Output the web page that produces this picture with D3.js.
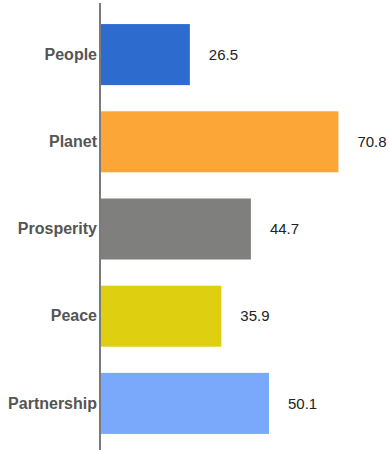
<!DOCTYPE html>
<html><head><meta charset="utf-8">
<script src="https://cdn.jsdelivr.net/npm/d3@7"></script>
<style>html,body{margin:0;padding:0;background:#fff;}</style>
</head><body>
<svg id="chart" width="389" height="450"></svg>
<script>
const categories = ["People", "Planet", "Prosperity", "Peace", "Partnership"];
const values = [26.5, 70.8, 44.7, 35.9, 50.1];
const colors = ["#2D6BCF", "#FCA637", "#7F7F7E", "#DFCF11", "#7AA9FC"];

const svg = d3.select("#chart");
const x = d3.scaleLinear().domain([0, 85]).range([101, 386]);
const y = d3.scaleBand().domain(categories).range([11, 447]).paddingInner(0.3).paddingOuter(0.15);

const data = categories.map((c, i) => ({c, v: values[i], col: colors[i]}));

svg.selectAll("rect.bar").data(data).join("rect")
  .attr("class", "bar")
  .attr("x", x(0))
  .attr("y", d => y(d.c))
  .attr("width", d => x(d.v) - x(0))
  .attr("height", y.bandwidth())
  .attr("fill", d => d.col);

svg.selectAll("text.val").data(data).join("text")
  .attr("class", "val")
  .attr("x", d => x(d.v) + 19)
  .attr("y", d => y(d.c) + y.bandwidth() / 2)
  .attr("dy", "0.35em")
  .attr("font-family", "Liberation Sans, Arial, sans-serif")
  .attr("font-size", 15)
  .attr("fill", "#222")
  .text(d => d.v.toFixed(1));

const axis = svg.append("g").attr("transform", "translate(100,0)")
  .call(d3.axisLeft(y).tickSize(0).tickPadding(3));
axis.select(".domain").remove();
axis.append("line").attr("x1", 0).attr("x2", 0).attr("y1", 3).attr("y2", 450)
  .attr("stroke", "#333").attr("stroke-width", 1.3);
axis.selectAll(".tick text")
  .attr("font-family", "Liberation Sans, Arial, sans-serif")
  .attr("font-size", 16)
  .attr("font-weight", "bold")
  .attr("fill", "#555");
</script>
</body></html>
